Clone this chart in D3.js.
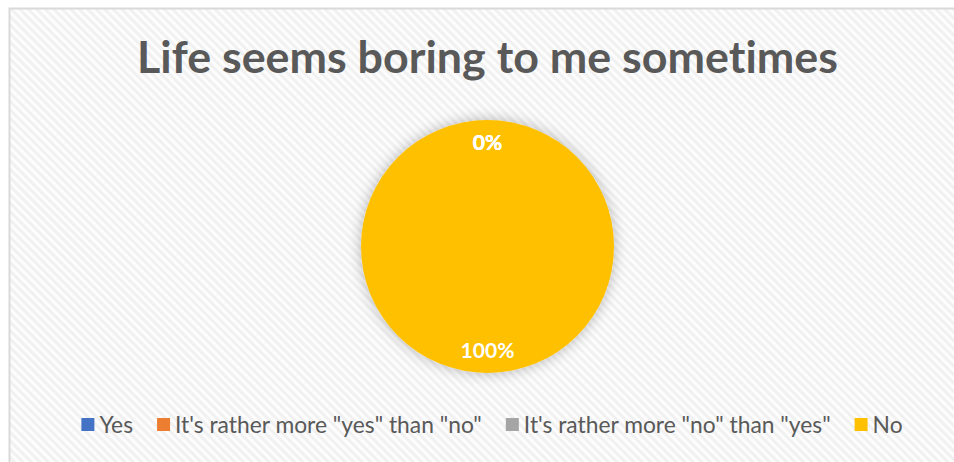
<!DOCTYPE html>
<html>
<head>
<meta charset="utf-8">
<script src="https://cdn.jsdelivr.net/npm/d3@7"></script>
<style>
  html, body { margin: 0; padding: 0; background: #fff; }
  svg { display: block; }
  text { font-variant-ligatures: none; }
</style>
</head>
<body>
<div id="app"></div>
<script>
const title = "Life seems boring to me sometimes";
const categories = ["Yes", "It's rather more \"yes\" than \"no\"", "It's rather more \"no\" than \"yes\"", "No"];
const values = [0, 0, 0, 100];
const colors = ["#4472C4", "#ED7D31", "#A5A5A5", "#FFC000"];

const W = 954, H = 462;
const FONT = "Lato, 'Open Sans', sans-serif";
const cx = 487.5, cy = 246.5, radius = 126.5;

const svg = d3.select("#app")
    .append("svg")
        .attr("width", W)
        .attr("height", H);

const defs = svg.append("defs");

// diagonal stripe fill of the chart area
const pattern = defs.append("pattern")
    .attr("id", "stripes")
    .attr("patternUnits", "userSpaceOnUse")
    .attr("width", 6)
    .attr("height", 6)
    .attr("patternTransform", "rotate(-45)");
pattern.append("rect").attr("width", 6).attr("height", 6).attr("fill", "#fdfdfd");
pattern.append("rect").attr("width", 3).attr("height", 6).attr("fill", "#f1f1f1");

// soft glow round the pie
const shadow = defs.append("filter")
    .attr("id", "glow")
    .attr("x", "-30%").attr("y", "-30%")
    .attr("width", "160%").attr("height", "160%");
shadow.append("feGaussianBlur").attr("in", "SourceAlpha").attr("stdDeviation", 7).attr("result", "blur");
shadow.append("feFlood").attr("flood-color", "#000").attr("flood-opacity", 0.28);
shadow.append("feComposite").attr("in2", "blur").attr("operator", "in").attr("result", "sh");
const merge = shadow.append("feMerge");
merge.append("feMergeNode").attr("in", "sh");
merge.append("feMergeNode").attr("in", "SourceGraphic");

svg.append("rect")
    .attr("x", 9.5).attr("y", 8.5)
    .attr("width", W + 20).attr("height", H + 20)
    .attr("fill", "url(#stripes)")
    .attr("stroke", "#d9d9d9")
    .attr("stroke-width", 2);

// title, sized to the width it has in the original
const titleText = svg.append("text")
    .attr("x", cx)
    .attr("y", 73)
    .attr("text-anchor", "middle")
    .attr("fill", "#595959")
    .style("font-family", FONT)
    .style("font-weight", "bold")
    .style("font-size", "44px")
    .text(title);
const tw = titleText.node().getComputedTextLength();
titleText.style("font-size", (44 * 701 / tw) + "px");

// pie
const pie = d3.pie().sort(null).value(d => d);
const arcs = pie(values);
const arc = d3.arc().innerRadius(0).outerRadius(radius);
const labelArc = d3.arc().innerRadius(radius * 0.82).outerRadius(radius * 0.82);
const color = d3.scaleOrdinal().domain(categories).range(colors);

const g = svg.append("g").attr("transform", `translate(${cx},${cy})`);
g.append("g")
    .attr("filter", "url(#glow)")
    .selectAll("path")
    .data(arcs)
    .join("path")
        .attr("d", arc)
        .attr("fill", (d, i) => color(categories[i]));

const labels = g.selectAll("text.lbl")
    .data(arcs)
    .join("text")
        .attr("class", "lbl")
        .attr("transform", d => `translate(${labelArc.centroid(d)})`)
        .attr("text-anchor", "middle")
        .attr("dy", "0.35em")
        .attr("fill", "#fff")
        .style("font-family", FONT)
        .style("font-weight", "bold")
        .style("font-size", "20px")
        .text(d => Math.round(d.value / d3.sum(values) * 100) + "%");
const fullW = labels.nodes()[3].getComputedTextLength();
labels.style("font-size", (20 * 54 / fullW) + "px");

// legend
const legend = svg.append("g");
const items = legend.selectAll("g")
    .data(categories)
    .join("g");
items.append("rect")
    .attr("width", 13).attr("height", 13)
    .attr("y", -7)
    .attr("fill", d => color(d));
const ltext = items.append("text")
    .attr("x", 18)
    .attr("dy", "0.35em")
    .attr("fill", "#595959")
    .style("font-family", FONT)
    .style("font-size", "20px")
    .text(d => d);
const longW = ltext.nodes()[1].getComputedTextLength();
ltext.style("font-size", (20 * 307 / longW) + "px");

let xpos = 0;
items.each(function() {
    const item = d3.select(this);
    item.attr("transform", `translate(${xpos},0)`);
    xpos += 18 + item.select("text").node().getComputedTextLength() + 24;
});
const legendW = xpos - 24;
legend.attr("transform", `translate(${492 - legendW / 2},425)`);
</script>
</body>
</html>
